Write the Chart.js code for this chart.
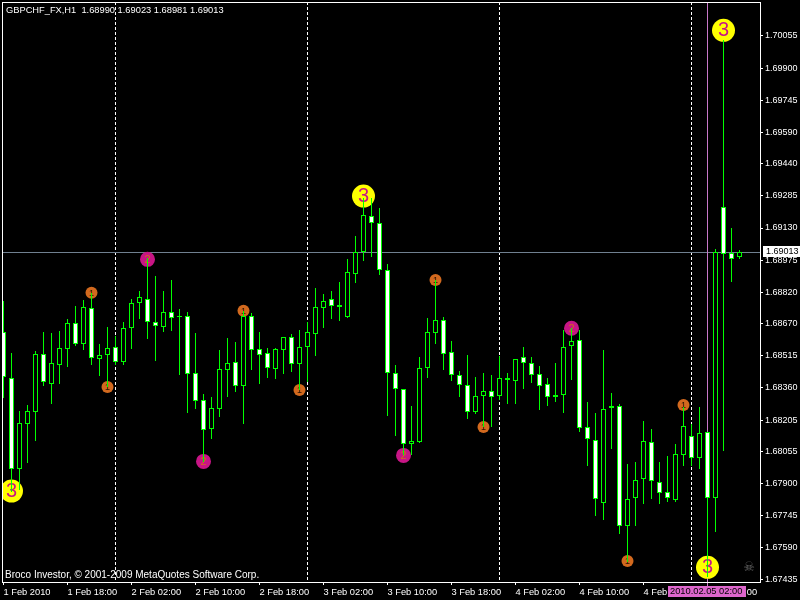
<!DOCTYPE html>
<html>
<head>
<meta charset="utf-8">
<script src="https://cdn.jsdelivr.net/npm/chart.js@4"></script>
<style>
    html, body { margin: 0; padding: 0; background: #000; }
    canvas { display: block; }
</style>
</head>
<body>
<canvas id="chart" width="800" height="600"></canvas>
<script>
const opens = [1.68628,1.68406,1.67971,1.68188,1.68245,1.68522,1.68380,1.68472,1.68549,1.68671,1.68573,1.68743,1.68498,1.68520,1.68556,1.68486,
    1.68647,1.68767,1.68787,1.68676,1.68655,1.68724,1.68705,1.68705,1.68430,1.68300,1.68163,1.68260,1.68448,1.68483,1.68368,1.68705,
    1.68546,1.68527,1.68452,1.68544,1.68604,1.68474,1.68556,1.68621,1.68746,1.68787,1.68758,1.68699,1.68910,1.69013,1.69186,1.69153,
    1.68926,1.68430,1.68353,1.68088,1.68101,1.68454,1.68623,1.68686,1.68531,1.68421,1.68373,1.68242,1.68322,1.68344,1.68322,1.68406,
    1.68395,1.68507,1.68478,1.68425,1.68377,1.68315,1.68324,1.68560,1.68589,1.68170,1.68108,1.67804,1.68262,1.68271,1.67693,1.67828,
    1.67920,1.68098,1.67905,1.67857,1.67819,1.68035,1.68127,1.68021,1.68146,1.67828,1.69230,1.69008,1.68990];
const highs = [1.68778,1.68527,1.68247,1.68278,1.68538,1.68628,1.68623,1.68633,1.68690,1.68754,1.68782,1.68816,1.68570,1.68652,1.68608,1.68676,
    1.68787,1.68825,1.68984,1.68897,1.68825,1.68878,1.68739,1.68724,1.68623,1.68329,1.68315,1.68541,1.68599,1.68580,1.68732,1.68719,
    1.68628,1.68551,1.68551,1.68607,1.68618,1.68637,1.68679,1.68840,1.68811,1.68825,1.68869,1.68979,1.69092,1.69275,1.69275,1.69226,
    1.68955,1.68469,1.68353,1.68271,1.68507,1.68695,1.68880,1.68700,1.68584,1.68440,1.68517,1.68411,1.68430,1.68421,1.68514,1.68430,
    1.68498,1.68556,1.68507,1.68464,1.68406,1.68478,1.68639,1.68648,1.68637,1.68291,1.68239,1.68541,1.68334,1.68281,1.67992,1.68002,
    1.68199,1.68161,1.68002,1.68030,1.68088,1.68269,1.68185,1.68267,1.68146,1.69029,1.70035,1.69130,1.69023];
const lows = [1.68313,1.67860,1.67868,1.68000,1.68106,1.68371,1.68284,1.68380,1.68462,1.68563,1.68544,1.68472,1.68419,1.68366,1.68472,1.68472,
    1.68549,1.68693,1.68597,1.68491,1.68631,1.68635,1.68424,1.68241,1.68260,1.68005,1.68115,1.68221,1.68318,1.68342,1.68188,1.68448,
    1.68380,1.68409,1.68404,1.68428,1.68438,1.68350,1.68387,1.68515,1.68650,1.68693,1.68684,1.68698,1.68867,1.68973,1.68992,1.68905,
    1.68226,1.68130,1.68037,1.68037,1.68095,1.68408,1.68573,1.68448,1.68395,1.68318,1.68212,1.68234,1.68173,1.68173,1.68302,1.68284,
    1.68284,1.68356,1.68385,1.68255,1.68274,1.68294,1.68241,1.68399,1.68149,1.67985,1.67744,1.67725,1.68067,1.67658,1.67523,1.67696,
    1.67802,1.67825,1.67799,1.67809,1.67809,1.67982,1.67982,1.67968,1.67451,1.67667,1.68058,1.68871,1.68981];
const closes = [1.68411,1.67971,1.68190,1.68247,1.68522,1.68390,1.68478,1.68551,1.68671,1.68573,1.68748,1.68503,1.68517,1.68551,1.68486,1.68647,
    1.68767,1.68796,1.68676,1.68657,1.68724,1.68695,1.68700,1.68428,1.68298,1.68156,1.68262,1.68450,1.68478,1.68368,1.68705,1.68541,
    1.68520,1.68454,1.68546,1.68604,1.68474,1.68556,1.68628,1.68748,1.68777,1.68753,1.68748,1.68917,1.69013,1.69191,1.69153,1.68926,
    1.68430,1.68353,1.68088,1.68103,1.68454,1.68628,1.68686,1.68522,1.68421,1.68373,1.68242,1.68320,1.68344,1.68315,1.68406,1.68397,
    1.68498,1.68478,1.68421,1.68368,1.68315,1.68324,1.68556,1.68584,1.68165,1.68112,1.67823,1.68257,1.68271,1.67693,1.67823,1.67915,
    1.68103,1.67910,1.67852,1.67828,1.68040,1.68175,1.68021,1.68141,1.67828,1.69013,1.69003,1.68979,1.69013];

const priceTicks = [1.70055,1.69900,1.69745,1.69590,1.69440,1.69285,1.69130,1.68975,1.68820,1.68670,1.68515,1.68360,1.68205,1.68055,1.67900,1.67745,1.67590,1.67435];
const timeTickBars = [0,8,16,24,32,40,48,56,64,72,80,88];
const timeTickLabels = ['1 Feb 2010','1 Feb 18:00','2 Feb 02:00','2 Feb 10:00','2 Feb 18:00','3 Feb 02:00','3 Feb 10:00','3 Feb 18:00','4 Feb 02:00','4 Feb 10:00','4 Feb 18:00','5 Feb 02:00'];
const daySeparatorBars = [14,38,62,86];

const level1Bars = [11,13,30,37,54,60,78,85];
const level1Prices = [1.68818,1.68364,1.68732,1.68350,1.68880,1.68172,1.67526,1.68278];
const level2Bars = [18,25,50,71];
const level2Prices = [1.68979,1.68006,1.68035,1.68647];
const level3Bars = [1,45,88,90];
const level3Prices = [1.67863,1.69284,1.67496,1.70082];

const titleText = 'GBPCHF_FX,H1  1.68990 1.69023 1.68981 1.69013';
const copyrightText = 'Broco Investor, \u00a9 2001-2009 MetaQuotes Software Corp.';
const lastPrice = 1.69013;
const cursorBar = 88;
const cursorLabel = '2010.02.05 02:00';

const UI_FONT = '"Liberation Sans", Arial, sans-serif';
const GREEN = '#00ff00';

const bars = closes.map((c, i) => i);
const pairUp = (xs, ys) => xs.map((x, i) => ({ x: x, y: ys[i] }));

const wickData = bars.map(i => ({ x: i, y: [lows[i], highs[i]] }));
const bodyData = bars.map(i => ({ x: i, y: [opens[i], closes[i]] }));

const markerSet = (label, xs, ys, color, radius, digit, digitColor, digitSize) => ({
    type: 'scatter',
    label: label,
    data: pairUp(xs, ys),
    order: 3,
    pointRadius: radius,
    pointHoverRadius: radius,
    pointBackgroundColor: color,
    pointBorderWidth: 0,
    digit: digit,
    digitColor: digitColor,
    digitSize: digitSize
});

// the axes label overflow must not push the plot area in
const noPadding = () => ({ left: 0, top: 0, right: 0, bottom: 0 });

const mt4Plugin = {
    id: 'mt4',
    beforeDraw(chart) {
        const ctx = chart.ctx;
        ctx.save();
        ctx.fillStyle = '#000';
        ctx.fillRect(0, 0, chart.width, chart.height);
        ctx.restore();
    },
    beforeDatasetsDraw(chart) {
        const { ctx, chartArea, scales } = chart;
        // snap the bars to whole pixels, the original has no soft edges
        chart.data.datasets.forEach((ds, n) => {
            if (ds.type === 'scatter') return;
            chart.getDatasetMeta(n).data.forEach((el, i) => {
                el.x = Math.floor(scales.x.getPixelForValue(i)) + 0.5;
                el.y = Math.round(el.y);
                el.base = Math.round(el.base);
            });
        });
        ctx.save();
        ctx.lineWidth = 1;
        ctx.strokeStyle = '#708090';
        const py = Math.floor(scales.y.getPixelForValue(lastPrice)) + 0.5;
        ctx.beginPath();
        ctx.moveTo(chartArea.left, py);
        ctx.lineTo(chartArea.right, py);
        ctx.stroke();
        ctx.strokeStyle = '#c878c8';
        const cx = Math.floor(scales.x.getPixelForValue(cursorBar)) + 0.5;
        ctx.beginPath();
        ctx.moveTo(cx, chartArea.top);
        ctx.lineTo(cx, chartArea.bottom + 4);
        ctx.stroke();
        ctx.restore();
    },
    afterDatasetDraw(chart, args) {
        const ds = chart.data.datasets[args.index];
        if (!ds.digit) return;
        const ctx = chart.ctx;
        ctx.save();
        ctx.font = ds.digitSize + 'px ' + UI_FONT;
        ctx.fillStyle = ds.digitColor;
        ctx.textAlign = 'center';
        ctx.textBaseline = 'middle';
        chart.getDatasetMeta(args.index).data.forEach(pt => {
            ctx.fillText(ds.digit, pt.x, pt.y + 0.5);
        });
        ctx.restore();
    },
    afterDraw(chart) {
        const { ctx, chartArea, scales } = chart;
        ctx.save();
        ctx.strokeStyle = '#fff';
        ctx.lineWidth = 1;
        ctx.strokeRect(chartArea.left + 0.5, chartArea.top + 0.5, chartArea.right - chartArea.left, chartArea.bottom - chartArea.top);

        ctx.fillStyle = '#fff';
        ctx.textBaseline = 'middle';
        ctx.textAlign = 'left';
        ctx.font = '9.3px ' + UI_FONT;
        ctx.fillText(titleText, 6, 10);
        ctx.font = '10px ' + UI_FONT;
        ctx.fillText(copyrightText, 5, 575);

        // last price tag
        const py = Math.floor(scales.y.getPixelForValue(lastPrice));
        ctx.font = '9px ' + UI_FONT;
        ctx.fillStyle = '#fff';
        ctx.fillRect(763, py - 6, 37, 11);
        ctx.fillStyle = '#000';
        ctx.fillText(lastPrice.toFixed(5), 766, py);

        // cursor time tag
        ctx.font = '9.3px ' + UI_FONT;
        ctx.fillStyle = '#dd66cc';
        ctx.fillRect(668, 586, 78, 11);
        ctx.fillStyle = '#000';
        ctx.fillText(cursorLabel, 670, 591.5);

        ctx.fillStyle = '#666';
        ctx.font = '13px "DejaVu Sans"';
        ctx.textAlign = 'center';
        ctx.fillText('\u2620', 749, 568);
        ctx.restore();
    }
};

new Chart(document.getElementById('chart').getContext('2d'), {
    type: 'bar',
    data: {
        datasets: [
            {
                label: 'body',
                data: bodyData,
                order: 1,
                grouped: false,
                barThickness: 5,
                borderWidth: 1,
                borderSkipped: false,
                inflateAmount: 0,
                borderColor: GREEN,
                backgroundColor: ctx => closes[ctx.dataIndex] < opens[ctx.dataIndex] ? '#fff' : '#000'
            },
            {
                label: 'wick',
                data: wickData,
                order: 2,
                grouped: false,
                barThickness: 1,
                borderWidth: 0,
                inflateAmount: 0,
                backgroundColor: GREEN
            },
            markerSet('level 1', level1Bars, level1Prices, '#d2691e', 6, '1', '#2a1200', 9),
            markerSet('level 2', level2Bars, level2Prices, '#c71585', 7.5, '2', '#d2691e', 11),
            markerSet('level 3', level3Bars, level3Prices, '#ffff00', 11.5, '3', '#c71585', 20)
        ]
    },
    options: {
        responsive: false,
        animation: false,
        layout: { autoPadding: false, padding: { left: 2, top: 2, right: 0, bottom: 0 } },
        plugins: {
            legend: { display: false },
            tooltip: { enabled: false }
        },
        scales: {
            x: {
                type: 'linear',
                offset: false,
                min: -0.1875,
                max: 94.5625,
                afterBuildTicks(scale) {
                    scale.ticks = timeTickBars.concat(daySeparatorBars).sort((a, b) => a - b).map(v => ({ value: v }));
                },
                afterFit(scale) {
                    scale.height = 18;
                    scale.getPadding = noPadding;
                },
                border: { display: false, dash: [3, 2] },
                grid: {
                    offset: false,
                    tickLength: 3,
                    lineWidth: 1,
                    tickBorderDash: [],
                    color: ctx => ctx.tick && daySeparatorBars.includes(ctx.tick.value) ? '#fff' : 'rgba(0,0,0,0)',
                    tickColor: ctx => ctx.tick && timeTickBars.includes(ctx.tick.value) ? '#fff' : 'rgba(0,0,0,0)'
                },
                ticks: {
                    autoSkip: false,
                    maxRotation: 0,
                    align: 'start',
                    padding: 2,
                    color: '#fff',
                    font: { family: UI_FONT, size: 9.3 },
                    callback: v => {
                        const n = timeTickBars.indexOf(v);
                        return n < 0 ? '' : timeTickLabels[n];
                    }
                }
            },
            y: {
                position: 'right',
                min: 1.674252,
                max: 1.702184,
                afterBuildTicks(scale) {
                    scale.ticks = priceTicks.map(v => ({ value: v }));
                },
                afterFit(scale) {
                    scale.width = 40;
                    scale.getPadding = noPadding;
                },
                border: { display: false },
                grid: {
                    drawOnChartArea: false,
                    tickLength: 3,
                    tickColor: '#fff'
                },
                ticks: {
                    autoSkip: false,
                    padding: 2,
                    color: '#fff',
                    font: { family: UI_FONT, size: 9 },
                    callback: v => v.toFixed(5)
                }
            }
        }
    },
    plugins: [mt4Plugin]
});
</script>
</body>
</html>
